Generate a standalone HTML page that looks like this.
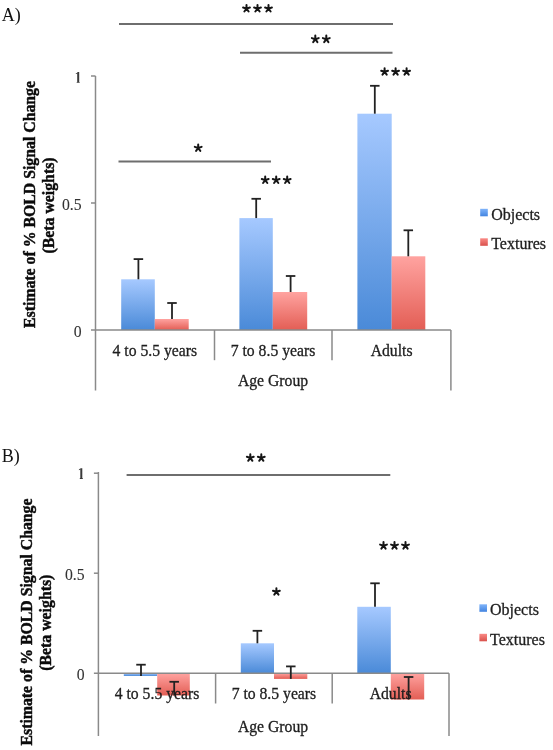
<!DOCTYPE html>
<html><head><meta charset="utf-8"><style>
html,body{margin:0;padding:0;background:#fff;width:553px;height:750px;overflow:hidden}
svg{position:absolute;left:0;top:0;filter:blur(0.45px)}
.ax{stroke:#8a8a8a;stroke-width:1.5}
.sg{stroke:#6e6e6e;stroke-width:2}
.eb{stroke:#222;stroke-width:1.8}
.tl{font-family:"Liberation Serif",serif;font-size:15.7px;fill:#1e1e1e;stroke:#1e1e1e;stroke-width:0.3px}
.yl{font-family:"Liberation Serif",serif;font-size:15.7px;fill:#333;stroke:#333;stroke-width:0.1px}
.lg{font-family:"Liberation Serif",serif;font-size:16px;fill:#1e1e1e;stroke:#1e1e1e;stroke-width:0.3px}
.tt{font-family:"Liberation Serif",serif;font-size:15.8px;font-weight:bold;fill:#0a0a0a;stroke:#0a0a0a;stroke-width:0.45px}
.pl{font-family:"Liberation Serif",serif;font-size:18px;fill:#111}
</style></head><body>
<svg width="553" height="750" viewBox="0 0 553 750">
<defs>
<linearGradient id="blue" x1="0" y1="0" x2="0" y2="1"><stop offset="0" stop-color="#a6c9ff"/><stop offset="1" stop-color="#4a8ad8"/></linearGradient>
<linearGradient id="red" x1="0" y1="0" x2="0" y2="1"><stop offset="0" stop-color="#ffa3a0"/><stop offset="1" stop-color="#e35e55"/></linearGradient>
<linearGradient id="blueL" x1="0" y1="0" x2="0" y2="1"><stop offset="0" stop-color="#80b4fa"/><stop offset="1" stop-color="#4284e0"/></linearGradient>
<linearGradient id="redL" x1="0" y1="0" x2="0" y2="1"><stop offset="0" stop-color="#fa8a86"/><stop offset="1" stop-color="#d9514c"/></linearGradient>
</defs>
<rect x="121.2" y="279.3" width="33.60000000000001" height="50.69999999999999" fill="url(#blue)"/><rect x="154.8" y="319" width="33.89999999999998" height="11" fill="url(#red)"/><rect x="239.4" y="218.1" width="33.400000000000006" height="111.9" fill="url(#blue)"/><rect x="272.8" y="292" width="34.39999999999998" height="38" fill="url(#red)"/><rect x="357.4" y="113.7" width="34.30000000000001" height="216.3" fill="url(#blue)"/><rect x="391.7" y="256.3" width="33.60000000000002" height="73.69999999999999" fill="url(#red)"/><line x1="95.5" y1="76" x2="95.5" y2="390.5" class="ax"/><line x1="91.0" y1="330" x2="450.9" y2="330" class="ax"/><line x1="450.9" y1="330" x2="450.9" y2="390.5" class="ax"/><line x1="214.5" y1="330" x2="214.5" y2="360.2" class="ax"/><line x1="332" y1="330" x2="332" y2="360.2" class="ax"/><line x1="91.0" y1="76" x2="95.5" y2="76" class="ax"/><line x1="91.0" y1="203.0" x2="95.5" y2="203.0" class="ax"/><line x1="138.4" y1="279.3" x2="138.4" y2="259.1" class="eb"/><line x1="133.65" y1="259.1" x2="143.15" y2="259.1" class="eb"/><line x1="172.0" y1="319" x2="172.0" y2="303" class="eb"/><line x1="167.25" y1="303" x2="176.75" y2="303" class="eb"/><line x1="256.2" y1="218.1" x2="256.2" y2="198.8" class="eb"/><line x1="251.45" y1="198.8" x2="260.95" y2="198.8" class="eb"/><line x1="290.6" y1="292" x2="290.6" y2="276" class="eb"/><line x1="285.85" y1="276" x2="295.35" y2="276" class="eb"/><line x1="374.8" y1="113.7" x2="374.8" y2="85.8" class="eb"/><line x1="370.05" y1="85.8" x2="379.55" y2="85.8" class="eb"/><line x1="408.3" y1="256.3" x2="408.3" y2="230.3" class="eb"/><line x1="403.55" y1="230.3" x2="413.05" y2="230.3" class="eb"/><text x="81.6" y="209.6" class="yl" text-anchor="end">0.5</text><text x="81.6" y="336.6" class="yl" text-anchor="end">0</text><path d="M77.2 72h2.0v10.8h-2.0z M77.39999999999999 72l-1.6 1.4v0.6l1.6-0.6z M76.7 81.9h3.0v0.9h-3.0z" fill="#3a3a3a"/><text x="154.8" y="355.8" class="tl" text-anchor="middle">4 to 5.5 years</text><text x="273" y="355.8" class="tl" text-anchor="middle">7 to 8.5 years</text><text x="391.6" y="355.8" class="tl" text-anchor="middle">Adults</text><text x="273" y="385.8" class="tl" text-anchor="middle">Age Group</text><rect x="480.2" y="208.8" width="7.6" height="7.5" fill="url(#blueL)"/><text x="491.2" y="219.8" class="lg" text-anchor="start">Objects</text><rect x="480.2" y="238.3" width="7.6" height="7.5" fill="url(#redL)"/><text x="491.2" y="249.3" class="lg" text-anchor="start">Textures</text><text transform="translate(34.7,204.5) rotate(-90)" class="tt" text-anchor="middle">Estimate of % BOLD Signal Change</text><text transform="translate(53.7,205.5) rotate(-90)" class="tt" text-anchor="middle">(Beta weights)</text><text x="1.8" y="20.8" class="pl" text-anchor="start">A)</text><rect x="123.8" y="673.2" width="33.39999999999999" height="2.7999999999999545" fill="url(#blue)"/><rect x="157.2" y="673.2" width="32.60000000000002" height="22.299999999999955" fill="url(#red)"/><rect x="240.8" y="643.3" width="33.19999999999999" height="29.90000000000009" fill="url(#blue)"/><rect x="274" y="673.2" width="33.30000000000001" height="5.699999999999932" fill="url(#red)"/><rect x="357.3" y="606.8" width="33.5" height="66.40000000000009" fill="url(#blue)"/><rect x="390.8" y="673.2" width="33.39999999999998" height="26.299999999999955" fill="url(#red)"/><line x1="98.4" y1="472" x2="98.4" y2="736" class="ax"/><line x1="93.9" y1="673.2" x2="449" y2="673.2" class="ax"/><line x1="449" y1="673.2" x2="449" y2="736" class="ax"/><line x1="215.6" y1="673.2" x2="215.6" y2="703.5" class="ax"/><line x1="332.2" y1="673.2" x2="332.2" y2="703.5" class="ax"/><line x1="93.9" y1="473.20000000000005" x2="98.4" y2="473.20000000000005" class="ax"/><line x1="93.9" y1="573.2" x2="98.4" y2="573.2" class="ax"/><line x1="141.0" y1="676" x2="141.0" y2="664.7" class="eb"/><line x1="136.25" y1="664.7" x2="145.75" y2="664.7" class="eb"/><line x1="174.2" y1="695.5" x2="174.2" y2="681.8" class="eb"/><line x1="169.45" y1="681.8" x2="178.95" y2="681.8" class="eb"/><line x1="257.4" y1="643.3" x2="257.4" y2="630.8" class="eb"/><line x1="252.64999999999998" y1="630.8" x2="262.15" y2="630.8" class="eb"/><line x1="290.8" y1="678.9" x2="290.8" y2="666.4" class="eb"/><line x1="286.05" y1="666.4" x2="295.55" y2="666.4" class="eb"/><line x1="375.0" y1="606.8" x2="375.0" y2="583.3" class="eb"/><line x1="370.25" y1="583.3" x2="379.75" y2="583.3" class="eb"/><line x1="408.6" y1="699.5" x2="408.6" y2="677" class="eb"/><line x1="403.85" y1="677" x2="413.35" y2="677" class="eb"/><text x="84.6" y="579.8000000000001" class="yl" text-anchor="end">0.5</text><text x="84.6" y="679.8000000000001" class="yl" text-anchor="end">0</text><path d="M80.30000000000001 468.2h2.0v10.8h-2.0z M80.5 468.2l-1.6 1.4v0.6l1.6-0.6z M79.80000000000001 478.09999999999997h3.0v0.9h-3.0z" fill="#3a3a3a"/><text x="157" y="698.5" class="tl" text-anchor="middle">4 to 5.5 years</text><text x="273.9" y="698.5" class="tl" text-anchor="middle">7 to 8.5 years</text><text x="390.6" y="698.5" class="tl" text-anchor="middle">Adults</text><text x="273" y="732.2" class="tl" text-anchor="middle">Age Group</text><rect x="479.4" y="604.3" width="7.6" height="7.5" fill="url(#blueL)"/><text x="490.0" y="615.3" class="lg" text-anchor="start">Objects</text><rect x="479.4" y="633.8" width="7.6" height="7.5" fill="url(#redL)"/><text x="490.0" y="644.8" class="lg" text-anchor="start">Textures</text><text transform="translate(32.2,622) rotate(-90)" class="tt" text-anchor="middle">Estimate of % BOLD Signal Change</text><text transform="translate(51.2,622.7) rotate(-90)" class="tt" text-anchor="middle">(Beta weights)</text><text x="1.8" y="461.8" class="pl" text-anchor="start">B)</text><line x1="119" y1="24" x2="393" y2="24" class="sg"/><path d="M246.50 8.60L246.50 5.00M246.50 8.60L249.92 7.49M246.50 8.60L248.62 11.51M246.50 8.60L244.38 11.51M246.50 8.60L243.08 7.49" stroke="#151515" stroke-width="2.0" stroke-linecap="round" fill="none"/><path d="M257.50 8.60L257.50 5.00M257.50 8.60L260.92 7.49M257.50 8.60L259.62 11.51M257.50 8.60L255.38 11.51M257.50 8.60L254.08 7.49" stroke="#151515" stroke-width="2.0" stroke-linecap="round" fill="none"/><path d="M268.50 8.60L268.50 5.00M268.50 8.60L271.92 7.49M268.50 8.60L270.62 11.51M268.50 8.60L266.38 11.51M268.50 8.60L265.08 7.49" stroke="#151515" stroke-width="2.0" stroke-linecap="round" fill="none"/><line x1="240" y1="52.7" x2="392.5" y2="52.7" class="sg"/><path d="M315.30 39.20L315.30 35.60M315.30 39.20L318.72 38.09M315.30 39.20L317.42 42.11M315.30 39.20L313.18 42.11M315.30 39.20L311.88 38.09" stroke="#151515" stroke-width="2.0" stroke-linecap="round" fill="none"/><path d="M326.30 39.20L326.30 35.60M326.30 39.20L329.72 38.09M326.30 39.20L328.42 42.11M326.30 39.20L324.18 42.11M326.30 39.20L322.88 38.09" stroke="#151515" stroke-width="2.0" stroke-linecap="round" fill="none"/><line x1="118.5" y1="161.4" x2="271" y2="161.4" class="sg"/><path d="M198.20 148.00L198.20 144.40M198.20 148.00L201.62 146.89M198.20 148.00L200.32 150.91M198.20 148.00L196.08 150.91M198.20 148.00L194.78 146.89" stroke="#151515" stroke-width="2.0" stroke-linecap="round" fill="none"/><path d="M265.20 180.10L265.20 176.50M265.20 180.10L268.62 178.99M265.20 180.10L267.32 183.01M265.20 180.10L263.08 183.01M265.20 180.10L261.78 178.99" stroke="#151515" stroke-width="2.0" stroke-linecap="round" fill="none"/><path d="M276.20 180.10L276.20 176.50M276.20 180.10L279.62 178.99M276.20 180.10L278.32 183.01M276.20 180.10L274.08 183.01M276.20 180.10L272.78 178.99" stroke="#151515" stroke-width="2.0" stroke-linecap="round" fill="none"/><path d="M287.20 180.10L287.20 176.50M287.20 180.10L290.62 178.99M287.20 180.10L289.32 183.01M287.20 180.10L285.08 183.01M287.20 180.10L283.78 178.99" stroke="#151515" stroke-width="2.0" stroke-linecap="round" fill="none"/><path d="M384.60 71.80L384.60 68.20M384.60 71.80L388.02 70.69M384.60 71.80L386.72 74.71M384.60 71.80L382.48 74.71M384.60 71.80L381.18 70.69" stroke="#151515" stroke-width="2.0" stroke-linecap="round" fill="none"/><path d="M395.60 71.80L395.60 68.20M395.60 71.80L399.02 70.69M395.60 71.80L397.72 74.71M395.60 71.80L393.48 74.71M395.60 71.80L392.18 70.69" stroke="#151515" stroke-width="2.0" stroke-linecap="round" fill="none"/><path d="M406.60 71.80L406.60 68.20M406.60 71.80L410.02 70.69M406.60 71.80L408.72 74.71M406.60 71.80L404.48 74.71M406.60 71.80L403.18 70.69" stroke="#151515" stroke-width="2.0" stroke-linecap="round" fill="none"/><line x1="126.6" y1="474.9" x2="390.3" y2="474.9" class="sg"/><path d="M250.30 457.90L250.30 454.30M250.30 457.90L253.72 456.79M250.30 457.90L252.42 460.81M250.30 457.90L248.18 460.81M250.30 457.90L246.88 456.79" stroke="#151515" stroke-width="2.0" stroke-linecap="round" fill="none"/><path d="M261.30 457.90L261.30 454.30M261.30 457.90L264.72 456.79M261.30 457.90L263.42 460.81M261.30 457.90L259.18 460.81M261.30 457.90L257.88 456.79" stroke="#151515" stroke-width="2.0" stroke-linecap="round" fill="none"/><path d="M276.40 591.80L276.40 588.20M276.40 591.80L279.82 590.69M276.40 591.80L278.52 594.71M276.40 591.80L274.28 594.71M276.40 591.80L272.98 590.69" stroke="#151515" stroke-width="2.0" stroke-linecap="round" fill="none"/><path d="M383.50 545.70L383.50 542.10M383.50 545.70L386.92 544.59M383.50 545.70L385.62 548.61M383.50 545.70L381.38 548.61M383.50 545.70L380.08 544.59" stroke="#151515" stroke-width="2.0" stroke-linecap="round" fill="none"/><path d="M394.50 545.70L394.50 542.10M394.50 545.70L397.92 544.59M394.50 545.70L396.62 548.61M394.50 545.70L392.38 548.61M394.50 545.70L391.08 544.59" stroke="#151515" stroke-width="2.0" stroke-linecap="round" fill="none"/><path d="M405.50 545.70L405.50 542.10M405.50 545.70L408.92 544.59M405.50 545.70L407.62 548.61M405.50 545.70L403.38 548.61M405.50 545.70L402.08 544.59" stroke="#151515" stroke-width="2.0" stroke-linecap="round" fill="none"/>
</svg>
</body></html>
